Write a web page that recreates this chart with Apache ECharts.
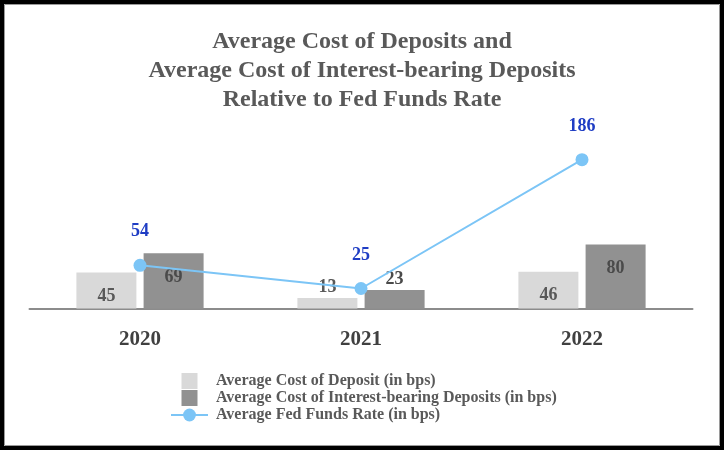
<!DOCTYPE html>
<html>
<head>
<meta charset="utf-8">
<script src="https://cdn.jsdelivr.net/npm/echarts@6/dist/echarts.min.js"></script>
<style>
html,body{margin:0;padding:0;background:#fff;}
#chart{width:724px;height:450px;}
</style>
</head>
<body>
<div id="chart"></div>
<script>
const categories = ['2020', '2021', '2022'];
const costOfDeposit = [45, 13, 46];
const costOfInterestBearing = [69, 23, 80];
const fedFundsRate = [54, 25, 186];
const seriesNames = [
  'Average Cost of Deposit (in bps)',
  'Average Cost of Interest-bearing Deposits (in bps)',
  'Average Fed Funds Rate (in bps)'
];

const serif = '"Liberation Serif", "Times New Roman", serif';
const labelGray = '#595959';

function barData(values) {
  return values.map(v => ({
    value: v,
    label: v < 30 ? { position: 'top', distance: 2 } : { position: 'insideTop', distance: 15 }
  }));
}

const chart = echarts.init(document.getElementById('chart'), null, { renderer: 'canvas' });
chart.setOption({
  backgroundColor: '#fff',
  animation: false,
  title: {
    text: 'Average Cost of Deposits and\nAverage Cost of Interest-bearing Deposits\nRelative to Fed Funds Rate',
    left: 'center',
    top: 22,
    textStyle: { fontFamily: serif, fontWeight: 'bold', fontSize: 24, lineHeight: 29, color: labelGray }
  },
  graphic: [
    { type: 'rect', shape: { x: 2, y: 2, width: 720, height: 446 }, style: { fill: 'none', stroke: '#000', lineWidth: 4 }, z: 100 },
    { type: 'rect', shape: { x: 4.5, y: 4.5, width: 715, height: 441 }, style: { fill: 'none', stroke: '#9a9a9a', lineWidth: 1 }, z: 100 }
  ],
  legend: {
    orient: 'vertical',
    left: 165,
    top: 368,
    itemWidth: 37,
    itemHeight: 16,
    itemGap: 1,
    textStyle: { fontFamily: serif, fontWeight: 'bold', fontSize: 16, lineHeight: 16, color: labelGray, padding: [0, 0, 0, 3] },
    data: [
      { name: seriesNames[0], icon: 'path://M0,0H10V10H0Z' },
      { name: seriesNames[1], icon: 'path://M0,0H10V10H0Z' },
      { name: seriesNames[2] }
    ]
  },
  grid: { left: 29.5, right: 31.5, top: 148.5, bottom: 141.5 },
  xAxis: {
    type: 'category',
    data: categories,
    axisLine: { lineStyle: { color: '#8C8C8C', width: 2 } },
    axisTick: { show: false },
    axisLabel: { margin: 21, fontFamily: serif, fontWeight: 'bold', fontSize: 21, color: '#404040' }
  },
  yAxis: {
    type: 'value', min: 0, max: 200, show: false, splitLine: { show: false }
  },
  series: [
    {
      name: seriesNames[0], type: 'bar', data: barData(costOfDeposit),
      barWidth: 60, barGap: '12%',
      itemStyle: { color: '#D9D9D9' },
      label: { show: true, fontFamily: serif, fontWeight: 'bold', fontSize: 18, color: labelGray }
    },
    {
      name: seriesNames[1], type: 'bar', data: barData(costOfInterestBearing),
      barWidth: 60, barGap: '12%',
      itemStyle: { color: '#919191' },
      label: { show: true, fontFamily: serif, fontWeight: 'bold', fontSize: 18, color: '#4a4a4a' }
    },
    {
      name: seriesNames[2], type: 'line', data: fedFundsRate, z: 5,
      symbol: 'circle', symbolSize: 13,
      lineStyle: { color: '#7CC5F6', width: 2 },
      itemStyle: { color: '#7CC5F6' },
      label: { show: true, position: 'top', distance: 18, fontFamily: serif, fontWeight: 'bold', fontSize: 18, color: '#1F3DC4' }
    }
  ]
});
</script>
</body>
</html>
